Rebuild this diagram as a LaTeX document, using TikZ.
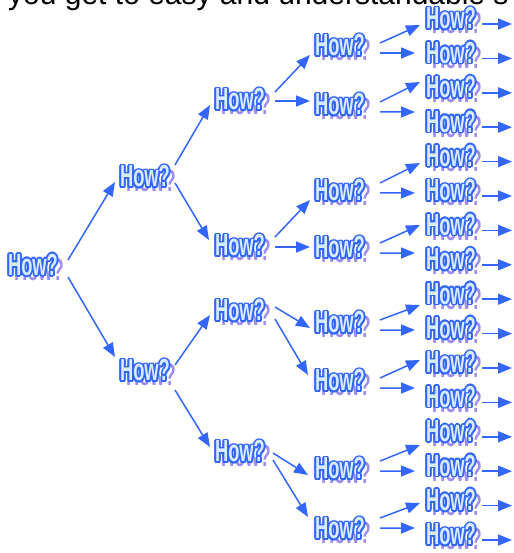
\documentclass[tikz,border=0pt]{standalone}
\usepackage{fontspec}
\setmainfont{Liberation Sans}
\usetikzlibrary{arrows.meta}

\definecolor{howblue}{HTML}{3366FF}
\definecolor{howfill}{HTML}{D8ECFB}
\definecolor{howshade}{HTML}{9C8CF0}

% one copy of the word, shifted by (#1,#2), in colour #3, taking no width
\newcommand\howlayer[3]{\makebox[0pt][l]{\hspace*{#1}\raisebox{#2}{\textcolor{#3}{How?}}}}
% outlined word with a soft drop shadow
\newcommand\howword{\scalebox{0.6}[1]{\fontsize{30.5}{30.5}\selectfont\bfseries
  \howlayer{10pt}{-5pt}{howshade}%
  \howlayer{2.9pt}{0pt}{howblue}%
  \howlayer{-2.9pt}{0pt}{howblue}%
  \howlayer{0pt}{1.7pt}{howblue}%
  \howlayer{0pt}{-1.7pt}{howblue}%
  \howlayer{2.05pt}{1.2pt}{howblue}%
  \howlayer{-2.05pt}{1.2pt}{howblue}%
  \howlayer{2.05pt}{-1.2pt}{howblue}%
  \howlayer{-2.05pt}{-1.2pt}{howblue}%
  \howlayer{2.7pt}{0.65pt}{howblue}%
  \howlayer{-2.7pt}{0.65pt}{howblue}%
  \howlayer{2.7pt}{-0.65pt}{howblue}%
  \howlayer{-2.7pt}{-0.65pt}{howblue}%
  \howlayer{1.1pt}{1.55pt}{howblue}%
  \howlayer{-1.1pt}{1.55pt}{howblue}%
  \howlayer{1.1pt}{-1.55pt}{howblue}%
  \howlayer{-1.1pt}{-1.55pt}{howblue}%
  \textcolor{howfill}{How?}}}

\tikzset{
  how/.style={inner sep=0pt, outer sep=0pt, anchor=center},
  arr/.style={draw=howblue, line width=1.5pt, -{Triangle[length=14pt,width=11pt]}}
}

\begin{document}
\begin{tikzpicture}[x=1pt, y=-1pt]
\useasboundingbox (0,0) rectangle (513,553);

% heading line, mostly above the page edge
\node[anchor=base west, inner sep=0pt] (title) at (8,5)
  {\fontsize{30}{36}\selectfont you get to easy and understandable s};

% tree of questions
\node[how] (n0)  at (33,266.5) {\howword};
\node[how] (n1a) at (145,178)  {\howword};
\node[how] (n1b) at (145,372)  {\howword};
\node[how] (n2a) at (240,101)  {\howword};
\node[how] (n2b) at (240,247)  {\howword};
\node[how] (n2c) at (240,312)  {\howword};
\node[how] (n2d) at (240,453)  {\howword};
\node[how] (n3a) at (340,47)   {\howword};
\node[how] (n3b) at (340,106)  {\howword};
\node[how] (n3c) at (340,192)  {\howword};
\node[how] (n3d) at (340,249)  {\howword};
\node[how] (n3e) at (340,324)  {\howword};
\node[how] (n3f) at (340,382)  {\howword};
\node[how] (n3g) at (340,470)  {\howword};
\node[how] (n3h) at (340,530)  {\howword};
\foreach \k in {0,...,15}
  \node[how] (n4-\k) at (451,{20+34.4*\k}) {\howword};

% first split
\draw[arr] ([shift={(35,-6.5)}]n0.center) -- ([shift={(-30,4)}]n1a.center);
\draw[arr] ([shift={(35,10.5)}]n0.center) -- ([shift={(-30,-15)}]n1b.center);

% second split
\draw[arr] ([shift={(30,-13)}]n1a.center) -- ([shift={(-30,4)}]n2a.center);
\draw[arr] ([shift={(30,5)}]n1a.center)   -- ([shift={(-31,-7)}]n2b.center);
\draw[arr] ([shift={(30,-7)}]n1b.center)  -- ([shift={(-30,3)}]n2c.center);
\draw[arr] ([shift={(30,18)}]n1b.center)  -- ([shift={(-30,-6)}]n2d.center);

% third split
\draw[arr] ([shift={(35,-9)}]n2a.center)  -- ([shift={(-30,8)}]n3a.center);
\draw[arr] ([shift={(35,0)}]n2a.center)   -- ([shift={(-30,-5)}]n3b.center);
\draw[arr] ([shift={(35,-10)}]n2b.center) -- ([shift={(-30,8)}]n3c.center);
\draw[arr] ([shift={(35,0)}]n2b.center)   -- ([shift={(-30,-2)}]n3d.center);
\draw[arr] ([shift={(35,-5)}]n2c.center)  -- ([shift={(-30,4)}]n3e.center);
\draw[arr] ([shift={(35,7)}]n2c.center)   -- ([shift={(-32,-7)}]n3f.center);
\draw[arr] ([shift={(33,0)}]n2d.center)   -- ([shift={(-32,5)}]n3g.center);
\draw[arr] ([shift={(33,7)}]n2d.center)   -- ([shift={(-32,-13)}]n3h.center);

% fourth split
\draw[arr] ([shift={(40,-4)}]n3a.center)  -- ([shift={(-31,5)}]n4-0.center);
\draw[arr] ([shift={(40,6)}]n3a.center)   -- ([shift={(-36,-1.4)}]n4-1.center);
\draw[arr] ([shift={(40,-4)}]n3b.center)  -- ([shift={(-31,-6.8)}]n4-2.center);
\draw[arr] ([shift={(40,6)}]n3b.center)   -- ([shift={(-36,-11.2)}]n4-3.center);
\draw[arr] ([shift={(40,-9)}]n3c.center)  -- ([shift={(-31,5.4)}]n4-4.center);
\draw[arr] ([shift={(40,1)}]n3c.center)   -- ([shift={(-36,1)}]n4-5.center);
\draw[arr] ([shift={(40,-6)}]n3d.center)  -- ([shift={(-31,-1.4)}]n4-6.center);
\draw[arr] ([shift={(40,4)}]n3d.center)   -- ([shift={(-36,-7.8)}]n4-7.center);
\draw[arr] ([shift={(40,-4)}]n3e.center)  -- ([shift={(-31,9.8)}]n4-8.center);
\draw[arr] ([shift={(40,6)}]n3e.center)   -- ([shift={(-36,0.4)}]n4-9.center);
\draw[arr] ([shift={(40,-4)}]n3f.center)  -- ([shift={(-31,-4)}]n4-10.center);
\draw[arr] ([shift={(40,6)}]n3f.center)   -- ([shift={(-36,-10.4)}]n4-11.center);
\draw[arr] ([shift={(40,-9)}]n3g.center)  -- ([shift={(-31,12.2)}]n4-12.center);
\draw[arr] ([shift={(40,1)}]n3g.center)   -- ([shift={(-36,3.8)}]n4-13.center);
\draw[arr] ([shift={(40,-12)}]n3h.center) -- ([shift={(-31,1.4)}]n4-14.center);
\draw[arr] ([shift={(40,-2)}]n3h.center)  -- ([shift={(-36,-8)}]n4-15.center);

% open ends on the right
\foreach \k in {0,...,15}
  \draw[arr] ([shift={(31,4)}]n4-\k.center) -- ([shift={(61,4)}]n4-\k.center);
\end{tikzpicture}
\end{document}
